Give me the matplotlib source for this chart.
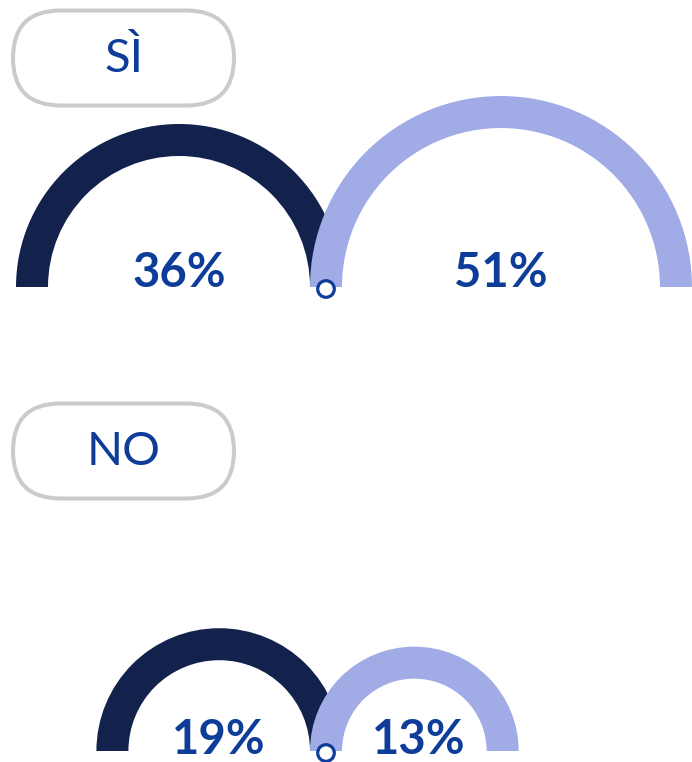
import numpy as np
import matplotlib
matplotlib.use("Agg")
import matplotlib.pyplot as plt
from matplotlib.patches import Wedge, FancyBboxPatch, Circle

# ---- data ----
row_labels = ["SÌ", "NO"]
dark_values = [36, 19]
light_values = [51, 13]

# ---- style ----
DARK = "#13214d"
LIGHT = "#a1abe5"
TEXT = "#0d3d99"
PILL_EDGE = "#cbcbcb"

W, H = 692, 762
fig = plt.figure(figsize=(W / 100, H / 100), dpi=100)
ax = fig.add_axes([0, 0, 1, 1])
ax.set_xlim(0, W)
ax.set_ylim(H, 0)
ax.set_aspect("equal")
ax.axis("off")

k = 147 / 6.0          # centreline radius per sqrt(percent)
thick = 32             # ring thickness
join_x = 326
bases = [287, 751]
pill_centers = [58, 451]
text_offsets = [0, 3]

for i, lab in enumerate(row_labels):
    base = bases[i]
    # pill label
    pw, ph = 221, 95
    pc = pill_centers[i]
    pill = FancyBboxPatch((13, pc - ph / 2), pw, ph,
                          boxstyle=f"round,pad=0,rounding_size={ph/2}",
                          facecolor="white", edgecolor=PILL_EDGE, linewidth=2.9)
    ax.add_patch(pill)
    ax.text(13 + pw / 2, pc + 1, lab, ha="center", va="center",
            fontsize=34, fontweight="normal", color=TEXT,
            family=["Lato", "DejaVu Sans"])

    # arcs
    rd = k * np.sqrt(dark_values[i])
    rl = k * np.sqrt(light_values[i])
    cd = join_x - rd
    cl = join_x + rl
    ax.add_patch(Wedge((cd, base), rd + thick / 2, 180, 360, width=thick,
                       facecolor=DARK, edgecolor="none", zorder=2))
    ax.add_patch(Wedge((cl, base), rl + thick / 2, 180, 360, width=thick,
                       facecolor=LIGHT, edgecolor="none", zorder=3))
    ax.add_patch(Circle((join_x, base + 2), 8.3, facecolor="white",
                        edgecolor=TEXT, linewidth=2.3, zorder=4))

    ax.text(cd, base + text_offsets[i], f"{dark_values[i]}%", ha="center",
            va="baseline", fontsize=34, fontweight="bold", color=TEXT,
            family=["Lato", "DejaVu Sans"], zorder=5)
    ax.text(cl + (4 if i == 1 else 0), base + text_offsets[i],
            f"{light_values[i]}%", ha="center",
            va="baseline", fontsize=34, fontweight="bold", color=TEXT,
            family=["Lato", "DejaVu Sans"], zorder=5)

fig.savefig("out.png", dpi=100, facecolor="white")
